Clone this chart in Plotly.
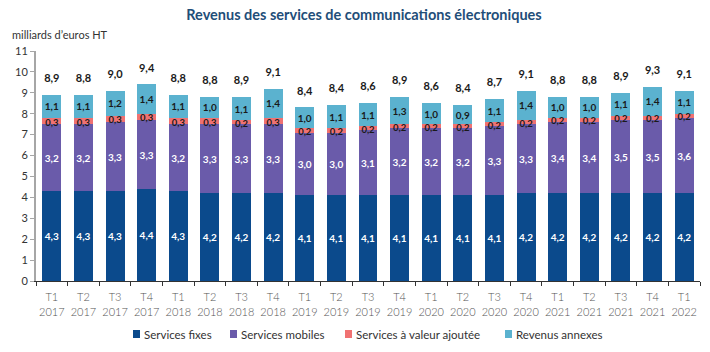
import plotly.graph_objects as go

quarters = ["T1<br>2017","T2<br>2017","T3<br>2017","T4<br>2017",
            "T1<br>2018","T2<br>2018","T3<br>2018","T4<br>2018",
            "T1<br>2019","T2<br>2019","T3<br>2019","T4<br>2019",
            "T1<br>2020","T2<br>2020","T3<br>2020","T4<br>2020",
            "T1<br>2021","T2<br>2021","T3<br>2021","T4<br>2021",
            "T1<br>2022"]
fixes    = [4.3,4.3,4.3,4.4,4.3,4.2,4.2,4.2,4.1,4.1,4.1,4.1,4.1,4.1,4.1,4.2,4.2,4.2,4.2,4.2,4.2]
mobiles  = [3.2,3.2,3.3,3.3,3.2,3.3,3.3,3.3,3.0,3.0,3.1,3.2,3.2,3.2,3.3,3.3,3.4,3.4,3.5,3.5,3.6]
valeur   = [0.3,0.3,0.3,0.3,0.3,0.3,0.2,0.3,0.2,0.2,0.2,0.2,0.2,0.2,0.2,0.2,0.2,0.2,0.2,0.2,0.2]
annexes  = [1.1,1.1,1.2,1.4,1.1,1.0,1.1,1.4,1.0,1.1,1.1,1.3,1.0,0.9,1.1,1.4,1.0,1.0,1.1,1.4,1.1]
totals   = [8.9,8.8,9.0,9.4,8.8,8.8,8.9,9.1,8.4,8.4,8.6,8.9,8.6,8.4,8.7,9.1,8.8,8.8,8.9,9.3,9.1]
y_ticks  = list(range(0, 12))

FONT = "Lato"
W, H = 710, 352
ML, MR, MT, MB = 36, 10, 51, 71
PW, PH = W - ML - MR, H - MT - MB

def fmt(v):
    return f"{v:.1f}".replace(".", ",")

def px2x(px):
    return (px - ML) / PW

def px2y(py):
    return (H - MB - py) / PH

series = [
    ("Services fixes", fixes, "#0B4A8C", "white", True),
    ("Services mobiles", mobiles, "#6A5BAA", "white", True),
    ("Services à valeur ajoutée", valeur, "#F07272", "#1a1a1a", False),
    ("Revenus annexes", annexes, "#5BB2CF", "#1a1a1a", True),
]

fig = go.Figure()
for name, vals, col, tcol, inside in series:
    fig.add_trace(go.Bar(
        x=quarters, y=vals, name=name, marker=dict(color=col, line=dict(width=0)),
        text=[fmt(v) for v in vals] if inside else None,
        textposition="inside" if inside else "none", insidetextanchor="middle",
        textangle=0, constraintext="none",
        textfont=dict(family=FONT, size=10, color=tcol, weight="bold"),
        cliponaxis=False, showlegend=False,
    ))

# labels for the thin "valeur ajoutée" segment, drawn on top so they overflow
mid_valeur = [a + b + c / 2 - 0.1 for a, b, c in zip(fixes, mobiles, valeur)]
fig.add_trace(go.Scatter(
    x=quarters, y=mid_valeur, mode="text",
    text=[fmt(v) for v in valeur], textposition="middle center",
    textfont=dict(family=FONT, size=9.5, color="#1a1a1a", weight="bold"),
    showlegend=False, hoverinfo="skip", cliponaxis=False,
))

stack_top = [a + b + c + d for a, b, c, d in zip(fixes, mobiles, valeur, annexes)]
fig.add_trace(go.Scatter(
    x=quarters, y=[t + 0.75 for t in stack_top], mode="text",
    text=[fmt(t) for t in totals], textposition="middle center",
    textfont=dict(family=FONT, size=11, color="#1a1a1a", weight="bold"),
    showlegend=False, hoverinfo="skip", cliponaxis=False,
))

# custom legend (compact, like the reference)
legend_sq_px = [133, 230, 345, 505]
shapes, annotations = [], []
for (name, vals, col, tcol, inside), sx in zip(series, legend_sq_px):
    shapes.append(dict(type="rect", xref="paper", yref="paper",
                       x0=px2x(sx), x1=px2x(sx + 7), y0=px2y(338), y1=px2y(330),
                       fillcolor=col, line=dict(width=0)))
    annotations.append(dict(text=name, xref="paper", yref="paper",
                            x=px2x(sx + 9), y=px2y(334), xanchor="left", yanchor="middle",
                            showarrow=False,
                            font=dict(family=FONT, size=11.5, color="#333333")))

annotations.append(dict(text="milliards d’euros HT", xref="paper", yref="paper",
                        x=px2x(10), y=px2y(35), xanchor="left", yanchor="middle",
                        showarrow=False,
                        font=dict(family=FONT, size=11, color="#333333")))

fig.update_layout(
    width=W, height=H,
    margin=dict(l=ML, r=MR, t=MT, b=MB),
    barmode="stack", bargap=0.4,
    plot_bgcolor="white", paper_bgcolor="white",
    font=dict(family=FONT, size=11, color="#333333"),
    uniformtext=dict(minsize=8, mode="show"),
    showlegend=False,
    title=dict(text="<b>Revenus des services de communications électroniques</b>",
               x=364 / W, xanchor="center", y=1 - 15 / H, yanchor="middle",
               font=dict(family=FONT, size=14.5, color="#1F4E79")),
    xaxis=dict(type="category", range=[-0.5, len(quarters) - 0.5],
               showline=True, linecolor="#333333", linewidth=1,
               ticks="outside", tickson="boundaries", ticklen=4, tickcolor="#333333",
               tickangle=0, automargin=False, ticklabelstandoff=6,
               tickfont=dict(family=FONT, size=11, color="#555555", weight=300)),
    yaxis=dict(range=[0, 11], tickvals=y_ticks, showgrid=False, showline=True,
               linecolor="#A6A6A6", linewidth=2, ticks="outside", ticklen=4,
               tickcolor="#A6A6A6", zeroline=False, automargin=False,
               tickfont=dict(family=FONT, size=11, color="#333333")),
    shapes=shapes,
    annotations=annotations,
)

fig.write_html("out.html")
